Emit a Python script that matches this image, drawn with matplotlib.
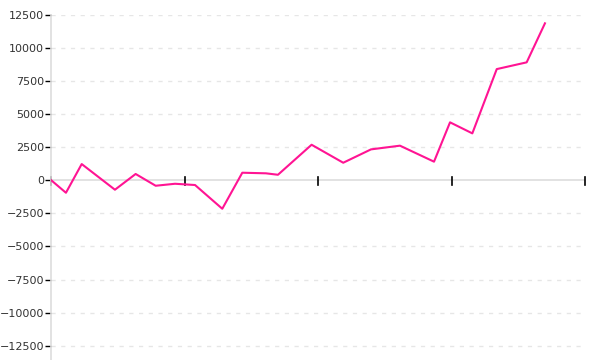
import numpy as np
import matplotlib.pyplot as plt

# x positions in tick units (ticks at 0..4), y values
xs = [0, 0.112, 0.230, 0.479, 0.634, 0.784, 0.929, 1.079, 1.283, 1.433, 1.610,
      1.700, 1.952, 2.189, 2.397, 2.614, 2.869, 2.989, 3.156, 3.339, 3.563, 3.700]
ys = [20, -940, 1230, -710, 480, -410, -260, -355, -2150, 575, 530,
      420, 2690, 1330, 2340, 2620, 1410, 4385, 3550, 8410, 8920, 11870]
yticks = np.arange(-12500, 12501, 2500)
xticks = [0, 1, 2, 3, 4]

fig = plt.figure(figsize=(6, 3.6), dpi=100)
ax = fig.add_axes([51 / 600, 0, 534 / 600, 345 / 360])

for y in yticks:
    if y != 0:
        ax.axhline(y, color='#e6e6e6', lw=1, ls=(0, (3, 4)), zorder=0)
ax.axhline(0, color='#dddddd', lw=1.2, zorder=1)

ax.plot(xs, ys, color='#ff1493', lw=1.5, zorder=3)

ax.set_xlim(0, 4)
ax.set_ylim(-13585, 12500)
ax.set_yticks(yticks)
ax.set_yticklabels([str(v).replace('-', '\u2212') for v in yticks])
ax.set_xticks([])
for xt in xticks:
    ax.plot([xt, xt], [-330, 280], color='black', lw=1.2, zorder=2, clip_on=False)

for s in ['top', 'right', 'bottom']:
    ax.spines[s].set_visible(False)
ax.spines['left'].set_color('#dddddd')
ax.spines['left'].set_linewidth(1.2)
ax.tick_params(axis='y', length=4, width=1, color='black', labelsize=8,
               labelcolor='#333333', pad=1)

fig.savefig('out.png', dpi=100)
